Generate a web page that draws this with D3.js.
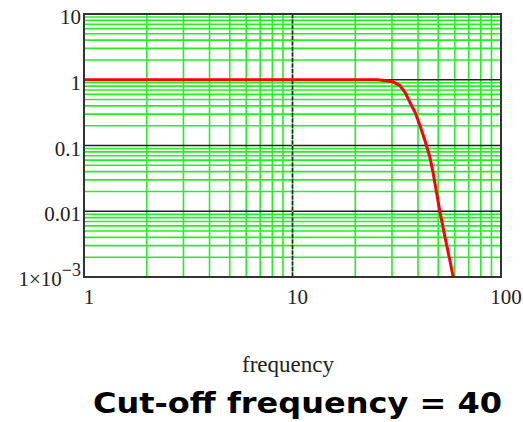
<!DOCTYPE html>
<html>
<head>
<meta charset="utf-8">
<title>cut-off</title>
<script src="https://cdnjs.cloudflare.com/ajax/libs/d3/7.8.5/d3.min.js"></script>
<style>
  body { margin: 0; background: #fff; }
  svg { display: block; }
</style>
</head>
<body>
<svg id="svg" width="523" height="422"></svg>
<script>
// response curve
const freq = [1, 5, 10, 20, 25.7, 30.3, 32.8, 34.7, 36.6, 38.7, 40.9, 43.2, 45.6, 47.2, 49.2, 51.0, 53.9, 56.9, 59.0];
const gain = [1, 1, 1, 1, 1, 0.93, 0.81, 0.64, 0.45, 0.32, 0.20, 0.118, 0.066, 0.039, 0.0185, 0.0096, 0.0040, 0.00177, 0.001];

const xTicks = [1, 10, 100];
const yTicks = [10, 1, 0.1, 0.01];
const xLabel = 'frequency';
const caption = 'Cut-off frequency = 40';

const svg = d3.select('#svg');
const x = d3.scaleLog().domain([1, 100]).range([84, 501]);
const y = d3.scaleLog().domain([0.001, 10]).range([277, 14]);

// minor grid values 2..9 in each decade
const minorX = [], minorY = [];
[1, 10].forEach(d => { for (let k = 2; k <= 9; k++) minorX.push(d * k); });
[0.001, 0.01, 0.1, 1].forEach(d => { for (let k = 2; k <= 9; k++) minorY.push(d * k); });

const green = '#22f022';
svg.append('g').selectAll('line').data(minorY).join('line')
  .attr('x1', 84).attr('x2', 501)
  .attr('y1', d => y(d)).attr('y2', d => y(d))
  .attr('stroke', green).attr('stroke-width', 1.6);
svg.append('g').selectAll('line').data(minorX).join('line')
  .attr('y1', 14).attr('y2', 277)
  .attr('x1', d => x(d)).attr('x2', d => x(d))
  .attr('stroke', green).attr('stroke-width', 1.6);

// major lines
svg.append('g').selectAll('line').data([1, 0.1, 0.01]).join('line')
  .attr('x1', 84).attr('x2', 501)
  .attr('y1', d => y(d)).attr('y2', d => y(d))
  .attr('stroke', '#222').attr('stroke-width', 1.6);
svg.append('line')
  .attr('x1', x(10)).attr('x2', x(10)).attr('y1', 14).attr('y2', 277)
  .attr('stroke', green).attr('stroke-width', 1.6);
svg.append('line')
  .attr('x1', x(10)).attr('x2', x(10)).attr('y1', 14).attr('y2', 277)
  .attr('stroke', '#222').attr('stroke-width', 1.6)
  .attr('stroke-dasharray', '4,1.5');

// curve
const pts = freq.map((f, i) => [f, gain[i]]);
svg.append('path')
  .datum(pts)
  .attr('d', d3.line().x(d => x(d[0])).y(d => y(d[1])))
  .attr('fill', 'none')
  .attr('stroke', '#f00')
  .attr('stroke-width', 3);

// frame
svg.append('rect')
  .attr('x', 84).attr('y', 14).attr('width', 417).attr('height', 263)
  .attr('fill', 'none').attr('stroke', '#333').attr('stroke-width', 2);

// tick labels
const serif = '"Liberation Serif", "DejaVu Serif", serif';
svg.append('g').selectAll('text').data(yTicks).join('text')
  .attr('x', 81).attr('y', d => y(d) + 10)
  .attr('text-anchor', 'end')
  .style('font-family', serif).style('font-size', '21px').style('fill', '#222')
  .text(d => d3.format('~g')(d));

const lowLab = svg.append('text')
  .attr('x', 81).attr('y', y(0.001) + 9)
  .attr('text-anchor', 'end')
  .style('font-family', serif).style('font-size', '21px').style('fill', '#222');
lowLab.append('tspan').text('1×10');
lowLab.append('tspan').attr('dy', -10).style('font-size', '18px').text('−3');

svg.append('g').selectAll('text').data(xTicks).join('text')
  .attr('x', d => x(d) + 5).attr('y', 304)
  .attr('text-anchor', 'middle')
  .style('font-family', serif).style('font-size', '21px').style('fill', '#222')
  .text(d => d);

svg.append('text')
  .attr('x', 288).attr('y', 372)
  .attr('text-anchor', 'middle')
  .style('font-family', serif).style('font-size', '23px').style('fill', '#222')
  .text(xLabel);

svg.append('text')
  .attr('x', 93).attr('y', 413)
  .attr('textLength', 409).attr('lengthAdjust', 'spacingAndGlyphs')
  .style('font-family', '"DejaVu Sans", Verdana, sans-serif')
  .style('font-weight', 'bold').style('font-size', '28px').style('fill', '#000')
  .text(caption);
</script>
</body>
</html>
